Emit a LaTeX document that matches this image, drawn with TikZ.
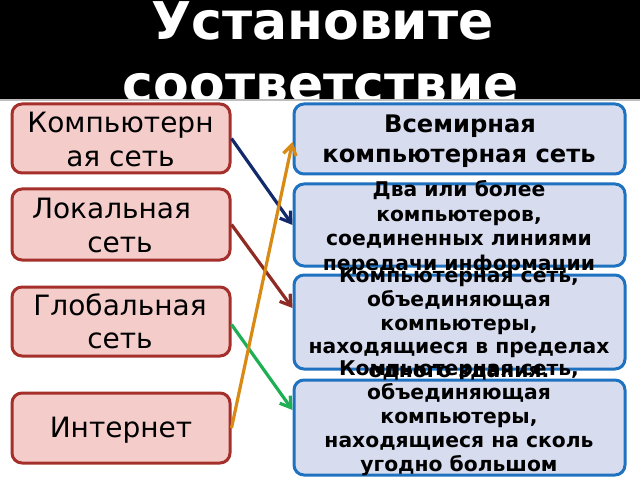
\documentclass[tikz,border=0pt]{standalone}
\usepackage{fontspec}
\setmainfont{DejaVu Sans}
\usetikzlibrary{arrows.meta}
\definecolor{lborder}{HTML}{A5302B}
\definecolor{lfill}{HTML}{F4CDCB}
\definecolor{rborder}{HTML}{1F72C0}
\definecolor{rfill}{HTML}{D8DCEF}
\definecolor{anavy}{HTML}{12296B}
\definecolor{ared}{HTML}{8E2B22}
\definecolor{agreen}{HTML}{1EAF55}
\definecolor{aorange}{HTML}{D98A14}
\definecolor{sepgray}{HTML}{BDBDBD}
\tikzset{
  lbox/.style={draw=lborder, fill=lfill, line width=3pt, rounded corners=10pt, minimum width=218pt, inner sep=0pt},
  rbox/.style={draw=rborder, fill=rfill, line width=3pt, rounded corners=10pt, minimum width=331pt, inner sep=0pt},
  ltext/.style={anchor=base, inner sep=0pt, font=\fontsize{28}{33}\selectfont},
  rtextA/.style={anchor=base, inner sep=0pt, font=\fontsize{24.2}{29}\selectfont\bfseries},
  rtext/.style={anchor=base, inner sep=0pt, font=\fontsize{20.3}{24}\selectfont\bfseries},
  ttext/.style={anchor=base, inner sep=0pt, text=white, font=\fontsize{52}{60}\selectfont\bfseries},
  conn/.style={line width=3.2pt, -{Straight Barb[length=10pt,width=13pt]}},
}
\begin{document}
\begin{tikzpicture}[x=1pt,y=1pt]
\useasboundingbox (0,0) rectangle (640,480);
\fill[white] (0,0) rectangle (640,480);
% title band
\fill[black] (0,381) rectangle (640,480);
\begin{scope}
  \clip (0,381) rectangle (640,480);
  \node[ttext] (t1) at (322.5,440.5) {Установите};
  \node[ttext] (t2) at (321,377) {соответствие};
\end{scope}
\draw[sepgray, line width=2pt] (0,380) -- (640,380);
% left boxes
\node[lbox, minimum height=69pt] (L1) at (121,341.5) {};
\node[lbox, minimum height=71pt] (L2) at (121,255.5) {};
\node[lbox, minimum height=69pt] (L3) at (121,158.5) {};
\node[lbox, minimum height=70pt] (L4) at (121,52) {};
% right boxes
\node[rbox, minimum height=70pt] (R1) at (459.5,341) {};
\node[rbox, minimum height=82pt] (R2) at (459.5,255) {};
\node[rbox, minimum height=94pt] (R3) at (459.5,158) {};
\node[rbox, minimum height=95pt] (R4) at (459.5,52.5) {};
% left texts
\node[ltext] (L1a) at (120.5,347) {Компьютерн};
\node[ltext] (L1b) at (120.5,313) {ая сеть};
\node[ltext] (L2a) at (111.5,261) {Локальная};
\node[ltext] (L2b) at (120,228) {сеть};
\node[ltext] (L3a) at (120,165) {Глобальная};
\node[ltext] (L3b) at (120,132) {сеть};
\node[ltext] (L4a) at (121,43) {Интернет};
% right texts
\node[rtextA] (R1a) at (460,347) {Всемирная};
\node[rtextA] (R1b) at (459,317) {компьютерная сеть};
\foreach \t [count=\i from 0] in {Два или более, {компьютеров,}, соединенных линиями, передачи информации}
  \node[rtext] (R2l\i) at (459,{283-\i*24.4}) {\t};
\foreach \t [count=\i from 0] in {{Компьютерная сеть,}, объединяющая, {компьютеры,}, находящиеся в пределах, одного здания.}
  \node[rtext] (R3l\i) at (459,{197-\i*23.5}) {\t};
\foreach \t [count=\i from 0] in {{Компьютерная сеть,}, объединяющая, {компьютеры,}, находящиеся на сколь, угодно большом}
  \node[rtext] (R4l\i) at (459,{105-\i*24.2}) {\t};
% connectors
\draw[conn, anavy] (L1.east) -- (R2.west);
\draw[conn, ared] (L2.east) -- ([yshift=14pt]R3.west);
\draw[conn, agreen] ([yshift=-3pt]L3.east) -- ([yshift=17.5pt]R4.west);
\draw[conn, aorange] (L4.east) -- ([yshift=-3pt]R1.west);
\end{tikzpicture}
\end{document}
